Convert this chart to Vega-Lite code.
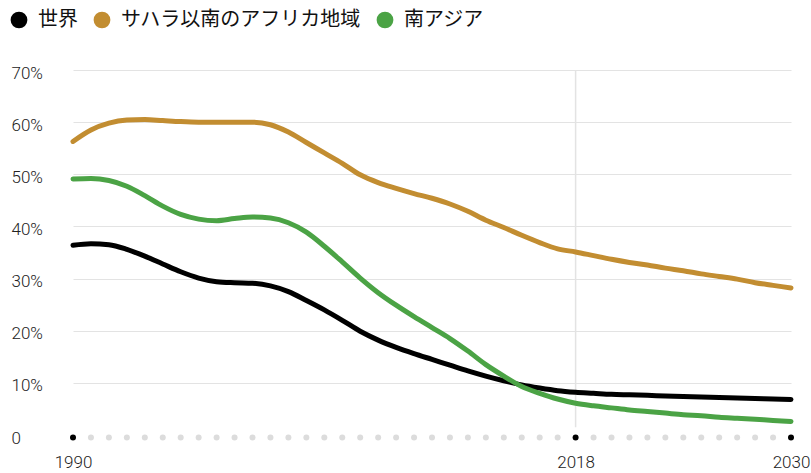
{
  "$schema": "https://vega.github.io/schema/vega-lite/v6.json",
  "autosize": {"type": "none"},
  "width": 718,
  "height": 365,
  "padding": {"left": 73, "top": 70, "right": 20, "bottom": 38},
  "background": "white",
  "config": {"view": {"stroke": null}},
  "datasets": {
    "series": [
      {"year":1990,"region":"世界","value":36.4},{"year":1991,"region":"世界","value":36.7},{"year":1992,"region":"世界","value":36.5},{"year":1993,"region":"世界","value":35.6},{"year":1994,"region":"世界","value":34.3},{"year":1995,"region":"世界","value":32.8},{"year":1996,"region":"世界","value":31.3},{"year":1997,"region":"世界","value":30.1},{"year":1998,"region":"世界","value":29.4},{"year":1999,"region":"世界","value":29.2},{"year":2000,"region":"世界","value":29.1},{"year":2001,"region":"世界","value":28.6},{"year":2002,"region":"世界","value":27.5},{"year":2003,"region":"世界","value":25.8},{"year":2004,"region":"世界","value":24.0},{"year":2005,"region":"世界","value":22.0},{"year":2006,"region":"世界","value":19.9},{"year":2007,"region":"世界","value":18.2},{"year":2008,"region":"世界","value":16.8},{"year":2009,"region":"世界","value":15.6},{"year":2010,"region":"世界","value":14.5},{"year":2011,"region":"世界","value":13.4},{"year":2012,"region":"世界","value":12.3},{"year":2013,"region":"世界","value":11.3},{"year":2014,"region":"世界","value":10.4},{"year":2015,"region":"世界","value":9.6},{"year":2016,"region":"世界","value":9.0},{"year":2017,"region":"世界","value":8.5},{"year":2018,"region":"世界","value":8.2},{"year":2019,"region":"世界","value":8.0},{"year":2020,"region":"世界","value":7.8},{"year":2021,"region":"世界","value":7.7},{"year":2022,"region":"世界","value":7.6},{"year":2023,"region":"世界","value":7.5},{"year":2024,"region":"世界","value":7.4},{"year":2025,"region":"世界","value":7.3},{"year":2026,"region":"世界","value":7.2},{"year":2027,"region":"世界","value":7.1},{"year":2028,"region":"世界","value":7.0},{"year":2029,"region":"世界","value":6.9},{"year":2030,"region":"世界","value":6.8},
      {"year":1990,"region":"サハラ以南のアフリカ地域","value":56.3},{"year":1991,"region":"サハラ以南のアフリカ地域","value":58.5},{"year":1992,"region":"サハラ以南のアフリカ地域","value":59.8},{"year":1993,"region":"サハラ以南のアフリカ地域","value":60.4},{"year":1994,"region":"サハラ以南のアフリカ地域","value":60.5},{"year":1995,"region":"サハラ以南のアフリカ地域","value":60.3},{"year":1996,"region":"サハラ以南のアフリカ地域","value":60.1},{"year":1997,"region":"サハラ以南のアフリカ地域","value":60.0},{"year":1998,"region":"サハラ以南のアフリカ地域","value":60.0},{"year":1999,"region":"サハラ以南のアフリカ地域","value":60.0},{"year":2000,"region":"サハラ以南のアフリカ地域","value":60.0},{"year":2001,"region":"サハラ以南のアフリカ地域","value":59.5},{"year":2002,"region":"サハラ以南のアフリカ地域","value":58.1},{"year":2003,"region":"サハラ以南のアフリカ地域","value":56.1},{"year":2004,"region":"サハラ以南のアフリカ地域","value":54.1},{"year":2005,"region":"サハラ以南のアフリカ地域","value":52.1},{"year":2006,"region":"サハラ以南のアフリカ地域","value":49.9},{"year":2007,"region":"サハラ以南のアフリカ地域","value":48.4},{"year":2008,"region":"サハラ以南のアフリカ地域","value":47.3},{"year":2009,"region":"サハラ以南のアフリカ地域","value":46.3},{"year":2010,"region":"サハラ以南のアフリカ地域","value":45.4},{"year":2011,"region":"サハラ以南のアフリカ地域","value":44.3},{"year":2012,"region":"サハラ以南のアフリカ地域","value":42.9},{"year":2013,"region":"サハラ以南のアフリカ地域","value":41.2},{"year":2014,"region":"サハラ以南のアフリカ地域","value":39.8},{"year":2015,"region":"サハラ以南のアフリカ地域","value":38.3},{"year":2016,"region":"サハラ以南のアフリカ地域","value":36.9},{"year":2017,"region":"サハラ以南のアフリカ地域","value":35.7},{"year":2018,"region":"サハラ以南のアフリカ地域","value":35.1},{"year":2019,"region":"サハラ以南のアフリカ地域","value":34.4},{"year":2020,"region":"サハラ以南のアフリカ地域","value":33.7},{"year":2021,"region":"サハラ以南のアフリカ地域","value":33.1},{"year":2022,"region":"サハラ以南のアフリカ地域","value":32.6},{"year":2023,"region":"サハラ以南のアフリカ地域","value":32.0},{"year":2024,"region":"サハラ以南のアフリカ地域","value":31.5},{"year":2025,"region":"サハラ以南のアフリカ地域","value":30.9},{"year":2026,"region":"サハラ以南のアフリカ地域","value":30.4},{"year":2027,"region":"サハラ以南のアフリカ地域","value":29.9},{"year":2028,"region":"サハラ以南のアフリカ地域","value":29.2},{"year":2029,"region":"サハラ以南のアフリカ地域","value":28.7},{"year":2030,"region":"サハラ以南のアフリカ地域","value":28.2},
      {"year":1990,"region":"南アジア","value":49.1},{"year":1991,"region":"南アジア","value":49.2},{"year":1992,"region":"南アジア","value":48.8},{"year":1993,"region":"南アジア","value":47.7},{"year":1994,"region":"南アジア","value":45.9},{"year":1995,"region":"南アジア","value":43.9},{"year":1996,"region":"南アジア","value":42.3},{"year":1997,"region":"南アジア","value":41.4},{"year":1998,"region":"南アジア","value":41.1},{"year":1999,"region":"南アジア","value":41.5},{"year":2000,"region":"南アジア","value":41.8},{"year":2001,"region":"南アジア","value":41.6},{"year":2002,"region":"南アジア","value":40.7},{"year":2003,"region":"南アジア","value":38.9},{"year":2004,"region":"南アジア","value":36.2},{"year":2005,"region":"南アジア","value":33.2},{"year":2006,"region":"南アジア","value":30.1},{"year":2007,"region":"南アジア","value":27.3},{"year":2008,"region":"南アジア","value":24.9},{"year":2009,"region":"南アジア","value":22.7},{"year":2010,"region":"南アジア","value":20.6},{"year":2011,"region":"南アジア","value":18.5},{"year":2012,"region":"南アジア","value":16.1},{"year":2013,"region":"南アジア","value":13.5},{"year":2014,"region":"南アジア","value":11.3},{"year":2015,"region":"南アジア","value":9.3},{"year":2016,"region":"南アジア","value":8.0},{"year":2017,"region":"南アジア","value":6.9},{"year":2018,"region":"南アジア","value":6.1},{"year":2019,"region":"南アジア","value":5.6},{"year":2020,"region":"南アジア","value":5.2},{"year":2021,"region":"南アジア","value":4.8},{"year":2022,"region":"南アジア","value":4.5},{"year":2023,"region":"南アジア","value":4.2},{"year":2024,"region":"南アジア","value":3.9},{"year":2025,"region":"南アジア","value":3.7},{"year":2026,"region":"南アジア","value":3.4},{"year":2027,"region":"南アジア","value":3.2},{"year":2028,"region":"南アジア","value":3.0},{"year":2029,"region":"南アジア","value":2.8},{"year":2030,"region":"南アジア","value":2.6}
    ],
    "ticks": [
      {"year":1990},{"year":1991},{"year":1992},{"year":1993},{"year":1994},{"year":1995},{"year":1996},{"year":1997},{"year":1998},{"year":1999},{"year":2000},{"year":2001},{"year":2002},{"year":2003},{"year":2004},{"year":2005},{"year":2006},{"year":2007},{"year":2008},{"year":2009},{"year":2010},{"year":2011},{"year":2012},{"year":2013},{"year":2014},{"year":2015},{"year":2016},{"year":2017},{"year":2018},{"year":2019},{"year":2020},{"year":2021},{"year":2022},{"year":2023},{"year":2024},{"year":2025},{"year":2026},{"year":2027},{"year":2028},{"year":2029},{"year":2030}
    ],
    "marker": [{"year":2018}]
  },
  "layer": [
    {
      "data": {"name": "marker"},
      "mark": {"type": "rule", "color": "#e3e3e3", "strokeWidth": 1.5},
      "encoding": {
        "x": {"field": "year", "type": "quantitative"},
        "y": {"datum": 70},
        "y2": {"datum": 1.5}
      }
    },
    {
      "data": {"name": "ticks"},
      "mark": {"type": "circle", "size": 36, "opacity": 1, "yOffset": 2.5},
      "encoding": {
        "x": {"field": "year", "type": "quantitative"},
        "y": {"datum": 0},
        "color": {
          "condition": {"test": "datum.year === 1990 || datum.year === 2018 || datum.year === 2030", "value": "#000000"},
          "value": "#dcdcdc"
        }
      }
    },
    {
      "data": {"name": "series"},
      "mark": {"type": "line", "strokeWidth": 5, "interpolate": "monotone", "strokeCap": "round", "strokeJoin": "round"},
      "encoding": {
        "x": {
          "field": "year", "type": "quantitative",
          "scale": {"domain": [1990, 2030], "nice": false, "zero": false},
          "axis": {
            "values": [1990, 2018, 2030], "format": "d", "title": null,
            "grid": false, "domain": false, "ticks": false,
            "labelPadding": 27, "labelFontSize": 17, "labelFontWeight": 300,
            "labelFont": "Roboto",
            "labelColor": "#222222", "labelBaseline": "middle", "labelFlush": false
          }
        },
        "y": {
          "field": "value", "type": "quantitative",
          "scale": {"domain": [0, 70], "nice": false},
          "axis": {
            "values": [0, 10, 20, 30, 40, 50, 60, 70], "title": null,
            "labelExpr": "datum.value === 0 ? '0' : datum.value + '%'",
            "domain": false, "ticks": false, "grid": true,
            "gridColor": "#e3e3e3", "gridWidth": 1,
            "gridOpacity": {"condition": {"test": "datum.value === 0", "value": 0}, "value": 1},
            "labelAlign": "left", "labelPadding": 62, "labelOffset": 3,
            "labelFontSize": 17, "labelFontWeight": 300,
            "labelFont": "Roboto",
            "labelColor": "#222222",
            "labelBaseline": "middle"
          }
        },
        "color": {
          "field": "region", "type": "nominal",
          "scale": {"domain": ["世界", "サハラ以南のアフリカ地域", "南アジア"], "range": ["#000000", "#c28d31", "#4ba345"]},
          "legend": {
            "orient": "none", "legendX": -64, "legendY": -60, "direction": "horizontal",
            "title": null, "symbolType": "circle", "symbolSize": 280, "symbolStrokeWidth": 0,
            "labelFontSize": 20, "labelFont": "Noto Sans CJK JP", "labelColor": "#111111",
            "labelOffset": 9, "columnPadding": 14, "labelLimit": 400,
            "encode": {"symbols": {"update": {"fill": {"scale": "color", "field": "value"}, "fillOpacity": {"value": 1}, "strokeWidth": {"value": 0}, "size": {"value": 280}}}}
          }
        }
      }
    }
  ]
}
